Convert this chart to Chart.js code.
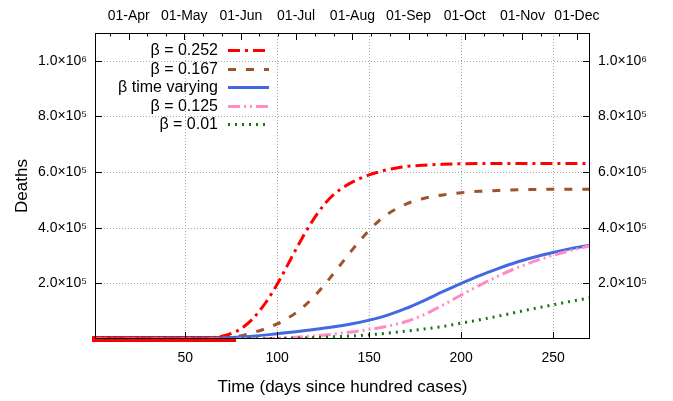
<!DOCTYPE html>
<html>
<head>
<meta charset="utf-8">
<script src="https://cdn.jsdelivr.net/npm/chart.js@4.4.1/dist/chart.umd.min.js"></script>
<style>
  html, body { margin: 0; padding: 0; background: #ffffff; }
  #wrap { width: 673px; height: 401px; }
</style>
</head>
<body>
<div id="wrap"><canvas id="c" width="673" height="401"></canvas></div>
<script>
// ---------------- data ----------------
const seriesNames = ['β = 0.252', 'β = 0.167', 'β time varying', 'β = 0.125', 'β = 0.01'];

// deaths in thousands
const days_252   = [1, 20, 40, 60, 66, 70, 74, 78, 82, 86, 90, 94, 98, 102, 106, 110, 114, 118, 122, 126, 130, 135, 140, 145, 150, 155, 160, 165, 170, 180, 190, 200, 230, 270];
const deaths_252 = [0, 0.5, 1, 3, 6, 10, 17, 28, 45, 68, 98, 133, 174, 220, 270, 320, 368, 412, 452, 487, 515, 541, 561, 577, 590, 600, 609, 615, 620, 625, 628, 630, 631, 631];

const days_167   = [1, 40, 70, 76, 82, 88, 94, 100, 105, 110, 115, 120, 125, 130, 135, 140, 145, 150, 155, 160, 165, 170, 175, 180, 190, 200, 210, 220, 235, 250, 270];
const deaths_167 = [0, 0.5, 3, 7, 14, 25, 38, 54, 72, 93, 120, 152, 189, 230, 272, 314, 354, 391, 423, 449, 469, 485, 497, 506, 518, 526, 531, 534, 537, 538, 538];

const days_tv    = [1, 30, 50, 70, 80, 90, 100, 110, 120, 130, 140, 150, 160, 170, 180, 190, 200, 210, 220, 230, 240, 250, 260, 270];
const deaths_tv  = [0, 0.5, 1.5, 4, 7, 12, 19, 26, 34, 43, 54, 68, 86, 110, 139, 170, 200, 228, 253, 276, 295, 311, 325, 337];

const days_125   = [1, 60, 90, 100, 110, 120, 130, 140, 150, 160, 170, 180, 190, 200, 210, 220, 230, 240, 250, 260, 270];
const deaths_125 = [0, 0, 1, 3, 6, 11, 17, 25, 34, 46, 63, 88, 122, 158, 193, 226, 255, 280, 301, 319, 335];

const days_001   = [1, 60, 90, 100, 120, 140, 150, 160, 170, 180, 190, 200, 210, 220, 230, 240, 250, 260, 270];
const deaths_001 = [0, 0, 1, 2, 5, 11, 15, 21, 28, 36, 45, 57, 69, 82, 96, 110, 123, 136, 148];

// early observed-period band near zero (drawn as thick red)
const days_obs   = [1, 20, 40, 60, 76];
const deaths_obs = [0, 0, 0, 0, 0];

// axis ticks and labels
const xTickValues  = [50, 100, 150, 200, 250];
const yTickValues  = [200000, 400000, 600000, 800000, 1000000];
const yTickLabels  = ['2.0×10⁵', '4.0×10⁵', '6.0×10⁵', '8.0×10⁵', '1.0×10⁶'];
const monthLabels  = ['01-Apr', '01-May', '01-Jun', '01-Jul', '01-Aug', '01-Sep', '01-Oct', '01-Nov', '01-Dec'];
const monthDays    = [19.3, 49.5, 80.3, 110.3, 140.9, 171.4, 201.9, 233.3, 262.9];

// ---------------- styles ----------------
const colors = ['#ff0000', '#a0522d', '#4169e1', '#ff8cc6', '#117711'];
const dashes = [[12, 5, 3, 5], [8, 10], [], [12, 4, 2, 4, 2, 4], [2, 5]];
const FONT = "'Liberation Sans', Arial, sans-serif";

function pts(xs, ys) { return xs.map((d, i) => ({ x: d, y: ys[i] * 1000 })); }

const allDays = [days_252, days_167, days_tv, days_125, days_001];
const allDeaths = [deaths_252, deaths_167, deaths_tv, deaths_125, deaths_001];

const datasets = seriesNames.map((name, i) => ({
  label: name,
  data: pts(allDays[i], allDeaths[i]),
  borderColor: colors[i],
  backgroundColor: colors[i],
  borderWidth: 3,
  borderDash: dashes[i],
  borderCapStyle: 'butt',
  pointRadius: 0,
  fill: false,
  cubicInterpolationMode: 'monotone',
  order: 5 - i
}));
datasets.push({
  label: 'observed',
  data: pts(days_obs, deaths_obs),
  borderColor: '#ff0000',
  borderWidth: 6,
  borderCapStyle: 'square',
  pointRadius: 0,
  fill: false,
  clip: false,
  order: 10
});

// minor top ticks: thirds of each month
const minorTop = [];
for (let i = 0; i < monthDays.length - 1; i++) {
  const step = (monthDays[i + 1] - monthDays[i]) / 3;
  minorTop.push(monthDays[i] + step, monthDays[i] + 2 * step);
}
minorTop.unshift(monthDays[0] - 10.2);

const framePlugin = {
  id: 'frame',
  beforeDatasetsDraw(chart) {
    const { ctx, chartArea: a, scales } = chart;
    ctx.save();
    ctx.strokeStyle = '#a8a8a8';
    ctx.lineWidth = 1;
    ctx.setLineDash([1, 2]);
    xTickValues.forEach(v => {
      const x = Math.round(scales.x.getPixelForValue(v)) + 0.5;
      ctx.beginPath(); ctx.moveTo(x, a.top); ctx.lineTo(x, a.bottom); ctx.stroke();
    });
    yTickValues.forEach(v => {
      const y = Math.round(scales.y.getPixelForValue(v)) + 0.5;
      ctx.beginPath(); ctx.moveTo(a.left, y); ctx.lineTo(a.right, y); ctx.stroke();
    });
    ctx.setLineDash([]);
    ctx.restore();
  },
  afterDatasetsDraw(chart) {
    const { ctx, chartArea: a, scales } = chart;
    ctx.save();
    ctx.strokeStyle = '#000';
    ctx.lineWidth = 1;
    ctx.strokeRect(Math.round(a.left) + 0.5, Math.round(a.top) + 0.5,
                   Math.round(a.right - a.left) - 1, Math.round(a.bottom - a.top) - 1);
    ctx.beginPath();
    xTickValues.forEach(v => {
      const x = Math.round(scales.x.getPixelForValue(v)) + 0.5;
      ctx.moveTo(x, a.bottom); ctx.lineTo(x, a.bottom - 7);
    });
    yTickValues.forEach(v => {
      const y = Math.round(scales.y.getPixelForValue(v)) + 0.5;
      ctx.moveTo(a.left, y); ctx.lineTo(a.left + 7, y);
      ctx.moveTo(a.right, y); ctx.lineTo(a.right - 7, y);
    });
    monthDays.forEach(v => {
      const x = Math.round(scales.x2.getPixelForValue(v)) + 0.5;
      ctx.moveTo(x, a.top); ctx.lineTo(x, a.top + 7);
    });
    minorTop.forEach(v => {
      if (v < scales.x2.min || v > scales.x2.max) return;
      const x = Math.round(scales.x2.getPixelForValue(v)) + 0.5;
      ctx.moveTo(x, a.top); ctx.lineTo(x, a.top + 3.5);
    });
    ctx.stroke();

    // legend
    const rows = [50, 69, 87, 106, 124];
    ctx.font = '16px ' + FONT;
    ctx.textAlign = 'right';
    ctx.textBaseline = 'middle';
    seriesNames.forEach((name, i) => {
      ctx.fillStyle = '#000';
      ctx.fillText(name, 218, rows[i] + 1);
      ctx.strokeStyle = colors[i];
      ctx.lineWidth = 3;
      ctx.setLineDash(dashes[i]);
      ctx.beginPath();
      ctx.moveTo(228, rows[i] + 0.5); ctx.lineTo(269, rows[i] + 0.5);
      ctx.stroke();
    });
    ctx.setLineDash([]);
    ctx.restore();
  }
};

const tickFont = { family: FONT, size: 14 };

new Chart(document.getElementById('c'), {
  type: 'line',
  data: { datasets },
  plugins: [framePlugin],
  options: {
    responsive: false,
    animation: false,
    layout: { padding: 0 },
    plugins: { legend: { display: false }, tooltip: { enabled: false } },
    scales: {
      x: {
        type: 'linear', position: 'bottom', min: 1, max: 270,
        afterBuildTicks: s => { s.ticks = xTickValues.map(v => ({ value: v })); },
        afterFit: s => { s.height = 62; },
        grid: { display: false, drawTicks: false },
        border: { display: false },
        ticks: { font: tickFont, color: '#000', padding: 11, maxRotation: 0, autoSkip: false, callback: v => String(v) },
        title: { display: true, text: 'Time (days since hundred cases)', font: { family: FONT, size: 17 }, color: '#000', padding: { top: 0, bottom: 3 } }
      },
      x2: {
        type: 'linear', position: 'top', min: 1, max: 270,
        afterBuildTicks: s => { s.ticks = monthDays.map(v => ({ value: v })); },
        afterFit: s => { s.height = 33; },
        grid: { display: false, drawTicks: false },
        border: { display: false },
        ticks: { font: tickFont, color: '#000', padding: 8, maxRotation: 0, autoSkip: false,
                 callback: (v, i) => monthLabels[i] }
      },
      y: {
        type: 'linear', position: 'left', min: 0, max: 1100000,
        afterBuildTicks: s => { s.ticks = yTickValues.map(v => ({ value: v })); },
        afterFit: s => { s.width = 95; },
        grid: { display: false, drawTicks: false },
        border: { display: false },
        ticks: { font: tickFont, color: '#000', padding: 8, autoSkip: false, callback: (v, i) => yTickLabels[i] },
        title: { display: true, text: 'Deaths', font: { family: FONT, size: 17 }, color: '#000', padding: { top: 12, bottom: 0 } }
      },
      y2: {
        type: 'linear', position: 'right', min: 0, max: 1100000,
        afterBuildTicks: s => { s.ticks = yTickValues.map(v => ({ value: v })); },
        afterFit: s => { s.width = 83; },
        grid: { display: false, drawTicks: false },
        border: { display: false },
        ticks: { font: tickFont, color: '#000', padding: 8, autoSkip: false, callback: (v, i) => yTickLabels[i] }
      }
    }
  }
});
</script>
</body>
</html>
